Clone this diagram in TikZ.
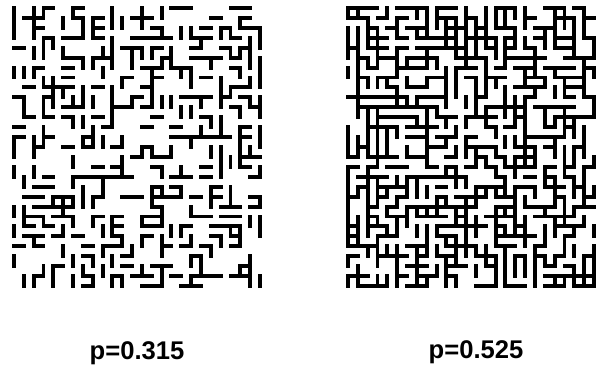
\documentclass[tikz,border=0pt]{standalone}
\usepackage{fontspec}
\setsansfont{Liberation Sans}
\begin{document}
\begin{tikzpicture}[x=0.025cm,y=-0.025cm,
	bond/.style={line width=2.8pt,line cap=rect},
	lbl/.style={font=\sffamily\bfseries\fontsize{18.2}{22}\selectfont}]
	\useasboundingbox (0,0) rectangle (610,366);
	\pgfmathsetseed{4711}
	% bonds of the square lattice, kept with probability p
	\foreach \ox/\p in {14/0.315,348/0.525} {
		\foreach \i in {0,...,25} {
			\foreach \j in {0,...,28} {
				\ifnum\i<25
					\pgfmathsetmacro\r{rnd}
					\ifdim\r pt<\p pt \draw[bond] (\ox+\i*9.84,8+\j*9.93) -- ++(9.84,0);\fi
				\fi
				\ifnum\j<28
					\pgfmathsetmacro\r{rnd}
					\ifdim\r pt<\p pt \draw[bond] (\ox+\i*9.84,8+\j*9.93) -- ++(0,9.93);\fi
				\fi
			}
		}
	}
	\node[lbl] (lblA) at (137,353) {p=0.315};
	\node[lbl] (lblB) at (476,352) {p=0.525};
\end{tikzpicture}
\end{document}
